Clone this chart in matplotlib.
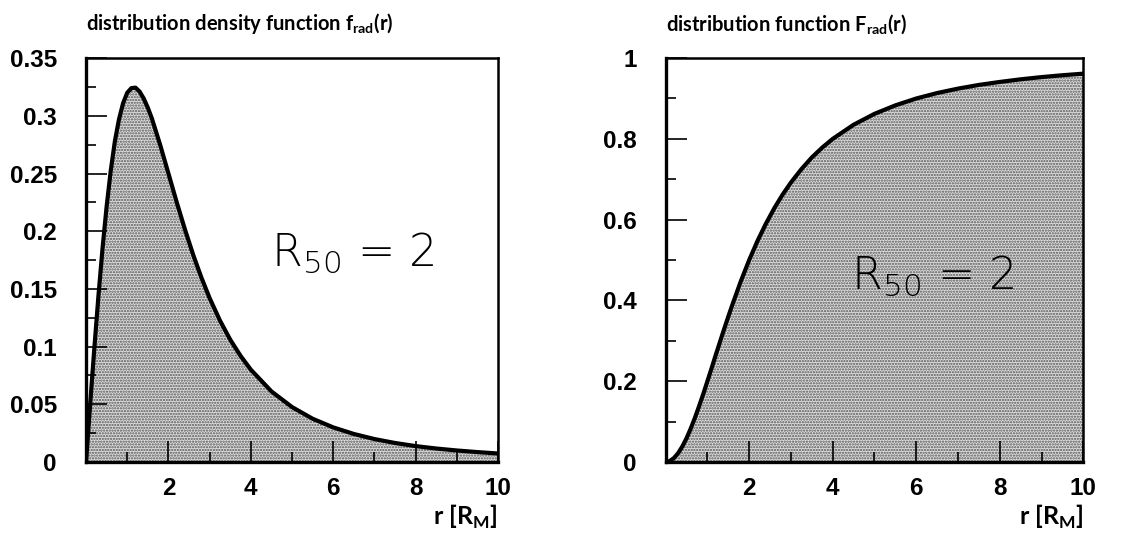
import matplotlib
matplotlib.use("Agg")
import matplotlib.pyplot as plt
from matplotlib.ticker import FixedLocator, MultipleLocator

# radial distance in units of R_M
r_vals = [0.0, 0.1, 0.2, 0.3, 0.4, 0.5, 0.6, 0.7, 0.8, 0.9, 1.0, 1.1, 1.2, 1.3,
          1.4, 1.5, 1.6, 1.8, 2.0, 2.2, 2.4, 2.6, 2.8, 3.0, 3.25, 3.5, 3.75,
          4.0, 4.5, 5.0, 5.5, 6.0, 6.5, 7.0, 7.5, 8.0, 8.5, 9.0, 9.5, 10.0]

# density f_rad(r)
density = [0.0, 0.050, 0.098, 0.1435, 0.185, 0.2215, 0.2525, 0.278, 0.297,
           0.311, 0.320, 0.324, 0.3244, 0.321, 0.315, 0.307, 0.2975, 0.2747,
           0.250, 0.2252, 0.2016, 0.1796, 0.1598, 0.142, 0.1226, 0.106, 0.092,
           0.080, 0.0612, 0.0476, 0.0375, 0.030, 0.0243, 0.0199, 0.0165,
           0.0138, 0.0117, 0.0100, 0.0086, 0.0074]

# cumulative F_rad(r)
cumulative = [0.0, 0.0025, 0.0099, 0.022, 0.0385, 0.0588, 0.0826, 0.109, 0.138,
              0.168, 0.200, 0.232, 0.265, 0.297, 0.329, 0.360, 0.390, 0.4475,
              0.500, 0.5475, 0.590, 0.628, 0.662, 0.692, 0.725, 0.754, 0.7785,
              0.800, 0.835, 0.862, 0.883, 0.900, 0.9135, 0.9245, 0.9336, 0.941,
              0.9475, 0.953, 0.9576, 0.9615]

left_yticks = [0, 0.05, 0.1, 0.15, 0.2, 0.25, 0.3, 0.35]
left_ylabels = ["0", "0.05", "0.1", "0.15", "0.2", "0.25", "0.3", "0.35"]
right_yticks = [0, 0.2, 0.4, 0.6, 0.8, 1.0]
right_ylabels = ["0", "0.2", "0.4", "0.6", "0.8", "1"]
x_major = [2, 4, 6, 8, 10]
x_labels = ["2", "4", "6", "8", "10"]

plt.rcParams["hatch.linewidth"] = 1.1
plt.rcParams["mathtext.fontset"] = "custom"
plt.rcParams["mathtext.rm"] = "Lato:bold"

fig = plt.figure(figsize=(11.32, 5.4), dpi=100)
ax_f = fig.add_axes([0.076, 0.1444, 0.364, 0.748])
ax_F = fig.add_axes([0.588, 0.1444, 0.369, 0.748])

tick_font = dict(family="Liberation Sans", weight="bold", size=17.5)
title_font = dict(family="Lato", weight="bold", size=14.5)


def style_axis(ax, ylim, yticks, ylabels, yminor):
    ax.set_xlim(0, 10)
    ax.set_ylim(*ylim)
    ax.xaxis.set_major_locator(FixedLocator(x_major))
    ax.xaxis.set_minor_locator(FixedLocator([1, 3, 5, 7, 9]))
    ax.set_xticklabels(x_labels, **tick_font)
    ax.yaxis.set_major_locator(FixedLocator(yticks))
    ax.yaxis.set_minor_locator(MultipleLocator(yminor))
    ax.set_yticklabels(ylabels, **tick_font)
    ax.tick_params(which="both", direction="in", top=False, right=False,
                   color="black", width=1.2)
    ax.tick_params(which="major", length=15)
    ax.tick_params(which="minor", length=7)
    ax.tick_params(axis="x", which="major", pad=11)
    ax.tick_params(axis="y", which="major", pad=21)
    for side, spine in ax.spines.items():
        spine.set_linewidth(2.4 if side in ("left", "bottom") else 1.8)
    ax.text(1.0, -0.135, r"r [R$_\mathregular{M}$]", transform=ax.transAxes,
            ha="right", va="center", fontsize=18, family="Lato", weight="bold")


def draw_curve(ax, y):
    ax.fill_between(r_vals, 0, y, facecolor="#dddddd", edgecolor="#555555",
                    hatch="......", linewidth=0, zorder=1)
    ax.plot(r_vals, y, color="black", linewidth=3.0, solid_capstyle="round",
            zorder=3)


draw_curve(ax_f, density)
style_axis(ax_f, (0, 0.35), left_yticks, left_ylabels, 0.025)
ax_f.text(0.0, 1.055, r"distribution density function f$_\mathregular{rad}$(r)",
          transform=ax_f.transAxes, ha="left", va="bottom", **title_font)
ax_f.text(4.5, 0.17, r"R$_\mathregular{50}$ = 2", fontsize=32,
          family="DejaVu Sans", weight="light", ha="left", va="baseline")

draw_curve(ax_F, cumulative)
style_axis(ax_F, (0, 1.0), right_yticks, right_ylabels, 0.1)
ax_F.text(0.0, 1.055, r"distribution function F$_\mathregular{rad}$(r)",
          transform=ax_F.transAxes, ha="left", va="bottom", **title_font)
ax_F.text(4.45, 0.43, r"R$_\mathregular{50}$ = 2", fontsize=32,
          family="DejaVu Sans", weight="light", ha="left", va="baseline")

fig.savefig("out.png", dpi=100)
